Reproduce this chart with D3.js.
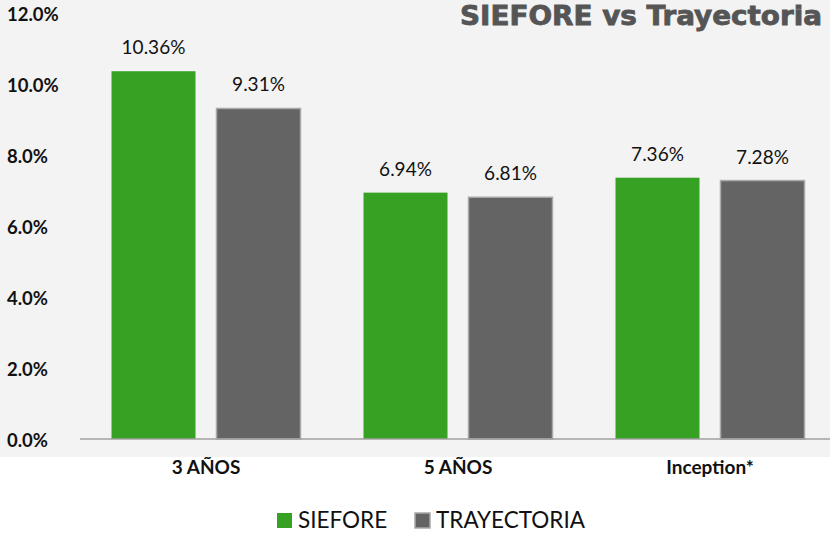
<!DOCTYPE html>
<html>
<head>
<meta charset="utf-8">
<script src="https://cdn.jsdelivr.net/npm/d3@7"></script>
<style>
    body { margin: 0; background: #ffffff; }
    svg { display: block; }
</style>
</head>
<body>
<svg id="chart"></svg>
<script>
// Data
const categories = ["3 AÑOS", "5 AÑOS", "Inception*"];
const seriesNames = ["SIEFORE", "TRAYECTORIA"];
const sieforeValues = [10.36, 6.94, 7.36];
const trayectoriaValues = [9.31, 6.81, 7.28];
const yTicks = [0, 2, 4, 6, 8, 10, 12];

const colors = { SIEFORE: "#36a123", TRAYECTORIA: "#646464" };

// Chart dimensions
const width = 830;
const height = 533;
const plotLeft = 80;
const plotBottom = 439;
const plotTop = 13;

const rows = categories.map((c, i) => ({
    category: c,
    SIEFORE: sieforeValues[i],
    TRAYECTORIA: trayectoriaValues[i]
}));

// Scales
const xScale = d3.scaleBand()
    .domain(categories)
    .range([plotLeft, 836])
    .paddingInner(0.25)
    .paddingOuter(0.125);

const xSub = d3.scaleBand()
    .domain(seriesNames)
    .range([0, xScale.bandwidth()])
    .paddingInner(0.2);

const yScale = d3.scaleLinear()
    .domain([0, 12])
    .range([plotBottom, plotTop]);

const svg = d3.select("#chart")
    .attr("width", width)
    .attr("height", height);

// gray plot area background
svg.append("rect")
    .attr("x", 0)
    .attr("y", 0)
    .attr("width", width)
    .attr("height", 457)
    .attr("fill", "#f3f3f3");

// title
svg.append("text")
    .text("SIEFORE vs Trayectoria")
    .attr("x", 822)
    .attr("y", 25)
    .attr("text-anchor", "end")
    .attr("textLength", 362)
    .attr("lengthAdjust", "spacingAndGlyphs")
    .attr("font-family", "'DejaVu Sans', sans-serif")
    .attr("font-weight", "bold")
    .attr("font-size", 26)
    .attr("fill", "#555555")
    .attr("stroke", "#555555")
    .attr("stroke-width", 0.8);

// y axis labels
const yAxis = d3.axisLeft(yScale)
    .tickValues(yTicks)
    .tickFormat(d => d3.format(".1f")(d) + "%")
    .tickSize(0)
    .tickPadding(0);

const yG = svg.append("g")
    .attr("transform", "translate(7, 0)")
    .call(yAxis);
yG.select(".domain").remove();
yG.selectAll("text")
    .attr("text-anchor", "start")
    .attr("dy", "0.4em")
    .attr("font-family", "Lato, sans-serif")
    .attr("font-weight", "bold")
    .attr("font-size", 18.5)
    .attr("fill", "#111111");

// bars
const groups = svg.selectAll("g.group")
    .data(rows)
    .enter()
    .append("g")
    .attr("class", "group")
    .attr("transform", d => "translate(" + xScale(d.category) + ", 0)");

const bars = groups.selectAll("g.bar")
    .data(d => seriesNames.map(s => ({ series: s, value: d[s] })))
    .enter()
    .append("g")
    .attr("class", "bar");

bars.append("rect")
    .attr("x", d => xSub(d.series))
    .attr("y", d => yScale(d.value))
    .attr("width", xSub.bandwidth())
    .attr("height", d => yScale(0) - yScale(d.value))
    .attr("fill", d => colors[d.series])
    .attr("stroke", d => d.series === "TRAYECTORIA" ? "#a9a9a9" : "none")
    .attr("stroke-width", 1.5);

bars.append("text")
    .text(d => d3.format(".2f")(d.value) + "%")
    .attr("x", d => xSub(d.series) + xSub.bandwidth() / 2)
    .attr("y", d => yScale(d.value) - 17)
    .attr("text-anchor", "middle")
    .attr("font-family", "Lato, sans-serif")
    .attr("font-size", 19)
    .attr("fill", "#111111");

// x axis
const xAxis = d3.axisBottom(xScale)
    .tickSize(0)
    .tickPadding(0);

const xG = svg.append("g")
    .attr("transform", "translate(0, " + plotBottom + ")")
    .call(xAxis);
xG.select(".domain")
    .attr("stroke", "#a0a0a0")
    .attr("stroke-width", 1.5)
    .attr("d", "M" + plotLeft + ",0H" + width);
xG.selectAll("text")
    .attr("dy", 0)
    .attr("y", 35)
    .attr("font-family", "Lato, sans-serif")
    .attr("font-weight", "bold")
    .attr("font-size", 19)
    .attr("fill", "#111111");

// legend
const legendItems = [
    { name: "SIEFORE", x: 277 },
    { name: "TRAYECTORIA", x: 415 }
];

const legend = svg.append("g")
    .selectAll("g")
    .data(legendItems)
    .enter()
    .append("g")
    .attr("transform", d => "translate(" + d.x + ", 513)");

legend.append("rect")
    .attr("width", 15)
    .attr("height", 15)
    .attr("fill", d => colors[d.name])
    .attr("stroke", d => d.name === "TRAYECTORIA" ? "#a9a9a9" : "none")
    .attr("stroke-width", 1.5);

legend.append("text")
    .text(d => d.name)
    .attr("x", 21)
    .attr("y", 15)
    .attr("font-family", "Lato, sans-serif")
    .attr("font-size", 22.5)
    .attr("fill", "#111111");
</script>
</body>
</html>
